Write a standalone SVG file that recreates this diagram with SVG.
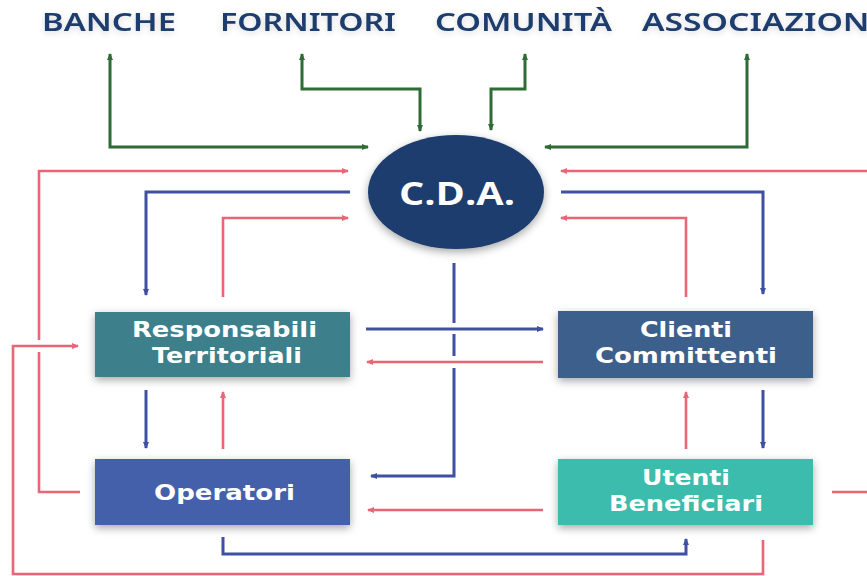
<svg xmlns="http://www.w3.org/2000/svg" width="867" height="576" viewBox="0 0 867 576">
<defs>
<style>
.top{font-family:"Noto Sans","DejaVu Sans",sans-serif;font-weight:600;font-size:25px;fill:#1f3e6e}
.lbl{font-family:"DejaVu Sans",sans-serif;font-weight:bold;font-size:22px;fill:#ffffff}
.g{fill:none;stroke:#2f6b34;stroke-width:3}
.r{fill:none;stroke:#e86676;stroke-width:2.6}
.b{fill:none;stroke:#3f50a2;stroke-width:3}
</style>
<filter id="sh" x="-20%" y="-30%" width="140%" height="160%">
<feDropShadow dx="0" dy="3" stdDeviation="4" flood-color="#000" flood-opacity="0.35"/>
</filter>
<filter id="tsh" x="-10%" y="-50%" width="120%" height="200%">
<feDropShadow dx="0" dy="2" stdDeviation="3" flood-color="#000" flood-opacity="0.15"/>
</filter>
<marker id="ag" markerWidth="8" markerHeight="8" refX="6" refY="4" orient="auto-start-reverse" markerUnits="userSpaceOnUse"><path d="M0,1 L7,4 L0,7 z" fill="#2f6b34"/></marker>
<marker id="ar" markerWidth="8" markerHeight="8" refX="6" refY="4" orient="auto-start-reverse" markerUnits="userSpaceOnUse"><path d="M0,1 L7,4 L0,7 z" fill="#e86676"/></marker>
<marker id="ab" markerWidth="8" markerHeight="8" refX="6" refY="4" orient="auto-start-reverse" markerUnits="userSpaceOnUse"><path d="M0,1 L7,4 L0,7 z" fill="#3f50a2"/></marker>
</defs>
<rect width="867" height="576" fill="#ffffff"/>

<g id="connectors">
<path class="g" d="M110,54 V147 H368" marker-start="url(#ag)" marker-end="url(#ag)"/>
<path class="g" d="M302,54 V89 H420 V131" marker-start="url(#ag)" marker-end="url(#ag)"/>
<path class="g" d="M525,54 V89 H491 V130" marker-start="url(#ag)" marker-end="url(#ag)"/>
<path class="g" d="M747,54 V147 H545" marker-start="url(#ag)" marker-end="url(#ag)"/>
<path class="r" d="M80,492 H39 V352"/>
<path class="r" d="M39,340 V171 H348" marker-end="url(#ar)"/>
<path class="b" d="M350,192 H146 V295" marker-end="url(#ab)"/>
<path class="r" d="M223,297 V218 H348" marker-end="url(#ar)"/>
<path class="r" d="M763,540 V574 H13 V346 H78" marker-end="url(#ar)"/>
<path class="r" d="M867,171 H561" marker-end="url(#ar)"/>
<path class="b" d="M561,192 H763 V294" marker-end="url(#ab)"/>
<path class="r" d="M686,297 V218 H561" marker-end="url(#ar)"/>
<path class="r" d="M832,492 H867"/>
<path class="b" d="M366,329 H543" marker-end="url(#ab)"/>
<path class="r" d="M543,362 H367" marker-end="url(#ar)"/>
<path class="b" d="M454,263 V323 M454,334 V356 M454,368 V476 H371" marker-end="url(#ab)"/>
<path class="r" d="M543,510 H368" marker-end="url(#ar)"/>
<path class="b" d="M223,537 V554 H686 V539" marker-end="url(#ab)"/>
<path class="b" d="M146,390 V448" marker-end="url(#ab)"/>
<path class="r" d="M223,449 V392" marker-end="url(#ar)"/>
<path class="r" d="M686,449 V392" marker-end="url(#ar)"/>
<path class="b" d="M763,390 V448" marker-end="url(#ab)"/>
</g>

<g id="banche"><text class="top" x="42" y="31" textLength="134" lengthAdjust="spacingAndGlyphs" filter="url(#tsh)">BANCHE</text></g>
<g id="fornitori"><text class="top" x="220" y="31" textLength="176" lengthAdjust="spacingAndGlyphs" filter="url(#tsh)">FORNITORI</text></g>
<g id="comunita"><text class="top" x="435" y="31" textLength="177" lengthAdjust="spacingAndGlyphs" filter="url(#tsh)">COMUNITÀ</text></g>
<g id="associazioni"><text class="top" x="642" y="31" textLength="240" lengthAdjust="spacingAndGlyphs" filter="url(#tsh)">ASSOCIAZIONI</text></g>

<g id="cda">
<ellipse cx="456" cy="192" rx="88" ry="57" fill="#1e3e6d" filter="url(#sh)"/>
<text x="399" y="205" font-family="Open Sans, DejaVu Sans, sans-serif" font-weight="bold" font-size="33" fill="#fff" textLength="116" lengthAdjust="spacingAndGlyphs">C.D.A.</text>
</g>

<g id="responsabili">
<rect x="95" y="312" width="255" height="65" fill="#3e7f8b" filter="url(#sh)"/>
<text class="lbl" x="132" y="337" textLength="185" lengthAdjust="spacingAndGlyphs">Responsabili</text>
<text class="lbl" x="152" y="363" textLength="150" lengthAdjust="spacingAndGlyphs">Territoriali</text>
</g>
<g id="clienti">
<rect x="558" y="311" width="255" height="67" fill="#3e5f8b" filter="url(#sh)"/>
<text class="lbl" x="640" y="337" textLength="92" lengthAdjust="spacingAndGlyphs">Clienti</text>
<text class="lbl" x="595" y="363" textLength="182" lengthAdjust="spacingAndGlyphs">Committenti</text>
</g>
<g id="operatori">
<rect x="95" y="459" width="255" height="66" fill="#4561aa" filter="url(#sh)"/>
<text class="lbl" x="154" y="500" textLength="141" lengthAdjust="spacingAndGlyphs">Operatori</text>
</g>
<g id="utenti">
<rect x="558" y="459" width="255" height="66" fill="#3bbcad" filter="url(#sh)"/>
<text class="lbl" x="642" y="485" textLength="88" lengthAdjust="spacingAndGlyphs">Utenti</text>
<text class="lbl" x="609" y="511" textLength="154" lengthAdjust="spacingAndGlyphs">Beneficiari</text>
</g>
</svg>
